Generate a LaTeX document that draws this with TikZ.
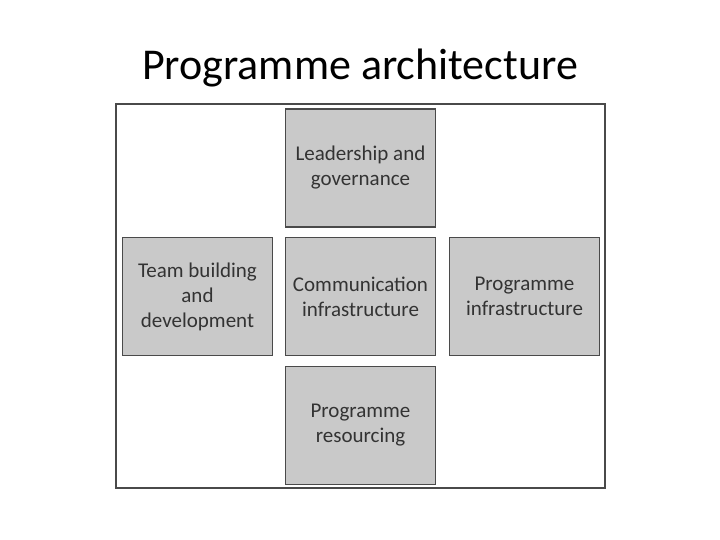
\documentclass[tikz,border=0pt]{standalone}
\usepackage{fontspec}
\setmainfont{Carlito}
\definecolor{boxfill}{HTML}{C9C9C9}
\definecolor{boxline}{HTML}{4A4A4A}
\definecolor{txt}{HTML}{333333}
\begin{document}
\begin{tikzpicture}[x=1pt,y=-1pt,
  blk/.style={draw=boxline,line width=1.6pt,fill=boxfill,minimum width=150pt,minimum height=118pt,
    inner sep=0pt,align=center,text=txt,font=\fontsize{21}{25}\selectfont},
  frame/.style={draw=boxline,line width=1.8pt}]
\useasboundingbox (0,0) rectangle (720,540);
\node[anchor=base,font=\fontsize{44}{50}\selectfont,text=black] (title) at (360,80) {Programme architecture};
\draw[frame] (116,104) rectangle (605,488);
\node[blk] (lead) at (360.5,168) {Leadership and\\governance};
\node[blk] (team) at (197.5,296.5) {Team building\\and\\development};
\node[blk] (comm) at (360.5,296.5) {Communication\\infrastructure};
\node[blk] (prog) at (524.5,296.5) {Programme\\infrastructure};
\node[blk] (res) at (360.5,425.5) {Programme\\resourcing};
\end{tikzpicture}
\end{document}
